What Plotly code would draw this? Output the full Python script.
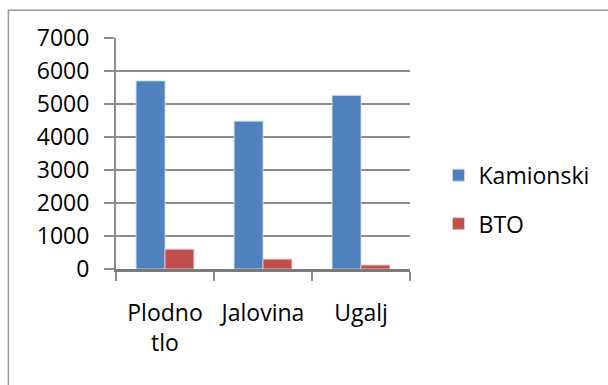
import plotly.graph_objects as go

# Data
categories = ["Plodno<br>tlo", "Jalovina", "Ugalj"]
kamionski = [5700, 4480, 5260]
bto = [600, 300, 120]
y_ticks = [0, 1000, 2000, 3000, 4000, 5000, 6000, 7000]

FONT = "Open Sans"
GRID = "#8c8c8c"

fig = go.Figure()
fig.add_trace(go.Bar(
    x=categories, y=kamionski, name="Kamionski",
    marker=dict(color="#4F81BD", line=dict(color="rgba(200,215,240,0.9)", width=1)),
    legend="legend",
))
fig.add_trace(go.Bar(
    x=categories, y=bto, name="BTO",
    marker=dict(color="#C0504D", line=dict(color="rgba(240,200,200,0.9)", width=1)),
    legend="legend2",
))

fig.update_layout(
    width=608, height=385,
    margin=dict(l=116, r=198, t=38, b=116),
    paper_bgcolor="white", plot_bgcolor="white",
    showlegend=True,
    barmode="group", bargap=0.41, bargroupgap=0,
    font=dict(family=FONT, size=23, color="#000000"),
    legend=dict(x=1.097, y=0.406, xanchor="left", yanchor="middle",
                font=dict(family=FONT, size=23, color="#000000"),
                bgcolor="rgba(0,0,0,0)"),
    legend2=dict(x=1.097, y=0.196, xanchor="left", yanchor="middle",
                 font=dict(family=FONT, size=23, color="#000000"),
                 bgcolor="rgba(0,0,0,0)"),
    xaxis=dict(
        showline=True, linecolor="#7a7a7a", linewidth=2.5,
        ticks="outside", tickson="boundaries", ticklen=9, tickwidth=2, tickcolor=GRID,
        ticklabelstandoff=22,
        showgrid=False, zeroline=False,
    ),
    yaxis=dict(
        range=[0, 7000], tickvals=y_ticks,
        showline=True, linecolor=GRID, linewidth=2,
        ticks="outside", ticklen=10, tickwidth=2, tickcolor=GRID,
        ticklabelstandoff=10,
        showgrid=True, gridcolor=GRID, gridwidth=2,
        zeroline=False,
    ),
)

# Outer chart frame
fig.add_shape(type="rect", xref="paper", yref="paper",
              x0=-0.366, x1=1.75, y0=-0.6, y1=1.12,
              line=dict(color="#999999", width=1.5), layer="below")

fig.write_html("out.html")
